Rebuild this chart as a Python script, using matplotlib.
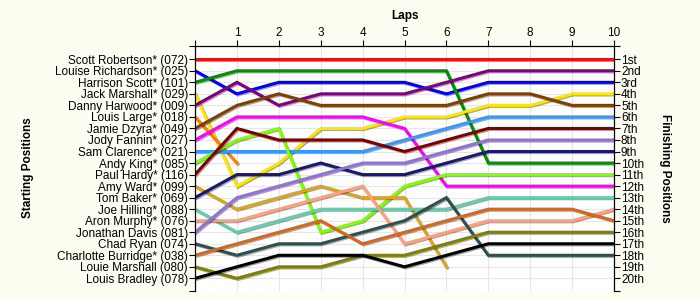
import numpy as np
import matplotlib
matplotlib.use('Agg')
import matplotlib.pyplot as plt
import matplotlib.patheffects as pe

plt.rcParams['font.family'] = ['Liberation Sans', 'DejaVu Sans']

laps = np.arange(0, 11)
nan = np.nan

drivers = ['Scott Robertson* (072)', 'Louise Richardson* (025)', 'Harrison Scott* (101)',
           'Jack Marshall* (029)', 'Danny Harwood* (009)', 'Louis Large* (018)',
           'Jamie Dzyra* (049)', 'Jody Fannin* (027)', 'Sam Clarence* (021)',
           'Andy King* (085)', 'Paul Hardy* (116)', 'Amy Ward* (099)', 'Tom Baker* (069)',
           'Joe Hilling* (088)', 'Aron Murphy* (076)', 'Jonathan Davis (081)',
           'Chad Ryan (074)', 'Charlotte Burridge* (038)', 'Louie Marshall (080)',
           'Louis Bradley (078)']

colors = ['#ee1111', '#0000ff', '#009000', '#ffe600', '#800080', '#ff8000',
          '#804000', '#ff00ff', '#3399ff', '#80ff00', '#800000', '#daa520',
          '#191970', '#66cdaa', '#ffa07a', '#9370db', '#2f4f4f', '#d2691e',
          '#808000', '#000000']

# position of each driver after every lap (lap 0 = grid)
pos = [
    [1, 1, 1, 1, 1, 1, 1, 1, 1, 1, 1],
    [2, 4, 3, 3, 3, 3, 4, 3, 3, 3, 3],
    [3, 2, 2, 2, 2, 2, 2, 10, 10, 10, 10],
    [4, 12, 10, 7, 7, 6, 6, 5, 5, 4, 4],
    [5, 3, 5, 4, 4, 4, 3, 2, 2, 2, 2],
    [6, 10, nan, nan, nan, nan, nan, nan, nan, nan, nan],
    [7, 5, 4, 5, 5, 5, 5, 4, 4, 5, 5],
    [8, 6, 6, 6, 6, 7, 12, 12, 12, 12, 12],
    [9, 9, 9, 9, 9, 8, 7, 6, 6, 6, 6],
    [10, 8, 7, 16, 15, 12, 11, 11, 11, 11, 11],
    [11, 7, 8, 8, 8, 9, 8, 7, 7, 7, 7],
    [12, 14, 13, 12, 13, 13, 19, nan, nan, nan, nan],
    [13, 11, 11, 10, 11, 11, 10, 9, 9, 9, 9],
    [14, 16, 15, 14, 14, 14, 14, 13, 13, 13, 13],
    [15, 15, 14, 13, 12, 17, 16, 15, 15, 15, 14],
    [16, 13, 12, 11, 10, 10, 9, 8, 8, 8, 8],
    [17, 18, 17, 17, 16, 15, 13, 18, 18, 18, 18],
    [18, 17, 16, 15, 17, 16, 15, 14, 14, 14, 15],
    [19, 20, 19, 19, 18, 18, 17, 16, 16, 16, 16],
    [20, 19, 18, 18, 18, 19, 18, 17, 17, 17, 17],
]

finish_labels = ['1st', '2nd', '3rd'] + ['%dth' % i for i in range(4, 21)]

fig = plt.figure(figsize=(7, 3), dpi=100, facecolor='#fdfdf2')
ax = fig.add_axes([0.2786, 0.031, 0.5986, 0.8157])
ax.set_facecolor('white')

for p, c in zip(pos, colors):
    ax.plot(laps, p, color=c, lw=2.2, solid_joinstyle='miter',
            path_effects=[pe.SimpleLineShadow(offset=(0.8, -0.8), shadow_color='black', alpha=0.35),
                          pe.Normal()])

ax.set_xlim(0, 10)
ax.set_ylim(21.07, -0.15)

ax.xaxis.tick_top()
ax.set_xticks(range(0, 11))
ax.set_xticklabels([''] + [str(i) for i in range(1, 11)], fontsize=8.5)
ax.tick_params(axis='x', direction='out', length=4, pad=1)

ax.set_yticks([-0.15] + list(range(1, 21)) + [21.07])
ax.set_yticklabels([''] + drivers + [''], fontsize=8.5)
ax.tick_params(axis='y', direction='out', length=4, pad=1)

ax2 = ax.twinx()
ax2.set_ylim(ax.get_ylim())
ax2.set_yticks([-0.15] + list(range(1, 21)) + [21.07])
ax2.set_yticklabels([''] + finish_labels + [''], fontsize=8.5)
ax2.tick_params(axis='y', direction='out', length=4, pad=1)

ax.grid(True, color='#e6e6e6', lw=0.8)
ax.set_axisbelow(True)
for a in (ax, ax2):
    a.spines['bottom'].set_visible(False)

fig.text(0.578, 0.945, 'Laps', fontsize=8.5, fontweight='bold', ha='center', va='center')
fig.text(0.04, 0.44, 'Starting Positions', fontsize=8.5, fontweight='bold',
         rotation=90, ha='center', va='center')
fig.text(0.95, 0.44, 'Finishing Positions', fontsize=8.5, fontweight='bold',
         rotation=270, ha='center', va='center')

fig.savefig('out.png', dpi=100, facecolor=fig.get_facecolor())
